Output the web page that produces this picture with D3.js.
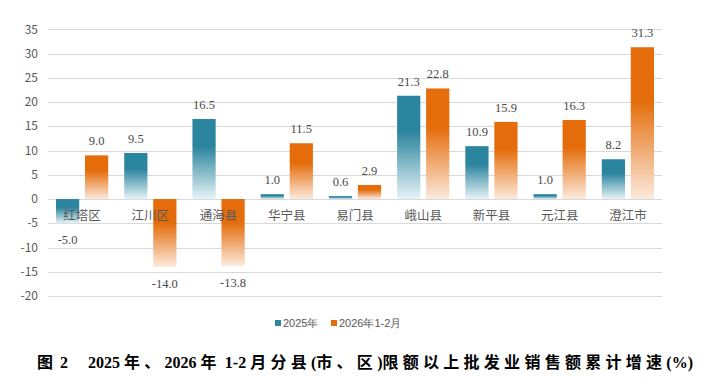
<!DOCTYPE html>
<html><head><meta charset="utf-8">
<script src="https://cdn.jsdelivr.net/npm/d3@7/dist/d3.min.js"></script>
<style>body{margin:0;background:#fff}svg{display:block}</style>
</head><body>
<svg id="c" width="703" height="383"></svg>
<script>
const categories = ["红塔区","江川区","通海县","华宁县","易门县","峨山县","新平县","元江县","澄江市"];
const series2025 = [-5.0, 9.5, 16.5, 1.0, 0.6, 21.3, 10.9, 1.0, 8.2];
const series2026 = [9.0, -14.0, -13.8, 11.5, 2.9, 22.8, 15.9, 16.3, 31.3];
const seriesNames = ["2025年", "2026年1-2月"];
const yTicks = [35,30,25,20,15,10,5,0,-5,-10,-15,-20];
const titleLead = "图 2";
const title = "2025 年、2026 年 1-2 月分县(市、区)限额以上批发业销售额累计增速(%)";

const svg = d3.select("#c");
const left = 48, right = 662;
const y = d3.scaleLinear().domain([-20, 35]).range([296, 29.3]);
const x0 = d3.scaleBand().domain(categories).range([left, right]).paddingInner(0).paddingOuter(0);
const x1 = d3.scaleBand().domain([0,1]).range([8, x0.bandwidth()-8]).paddingInner(0.2);

const defs = svg.append("defs");
const cols = [["#2C859E","#E6F3F7"],["#E46C0A","#FCEADC"]];
cols.forEach((c,i)=>{
  const g = defs.append("linearGradient").attr("id","g"+i).attr("x1",0).attr("y1",0).attr("x2",0).attr("y2",1);
  g.append("stop").attr("offset","0%").attr("stop-color",c[0]);
  g.append("stop").attr("offset","35%").attr("stop-color",c[0]);
  g.append("stop").attr("offset","100%").attr("stop-color",c[1]);
});

svg.append("g").selectAll("line").data(yTicks).join("line")
  .attr("x1",left).attr("x2",right).attr("y1",d=>Math.round(y(d))+0.5).attr("y2",d=>Math.round(y(d))+0.5)
  .attr("stroke","#d9d9d9").attr("stroke-width",1);
svg.append("g").selectAll("text").data(yTicks).join("text")
  .attr("x",38).attr("y",d=>y(d)).attr("dy","0.35em").attr("text-anchor","end")
  .attr("font-family","'Noto Sans CJK SC','Noto Sans',sans-serif").attr("font-size",12).attr("fill","#595959")
  .text(d=>d);

const data = [series2025, series2026];
data.forEach((s,si)=>{
  svg.append("g").selectAll("rect").data(s).join("rect")
    .attr("x",(d,i)=>x0(categories[i])+x1(si))
    .attr("width",x1.bandwidth())
    .attr("y",d=>d>=0?y(d):y(0))
    .attr("height",d=>Math.abs(y(d)-y(0)))
    .attr("fill","url(#g"+si+")");
});
svg.append("g").selectAll("text").data(categories).join("text")
  .attr("x",d=>x0(d)+x0.bandwidth()/2).attr("y",216).attr("dy","0.35em").attr("text-anchor","middle")
  .attr("font-family","'Noto Sans CJK SC',sans-serif").attr("font-size",12.5).attr("fill","#595959")
  .text(d=>d);
data.forEach((s,si)=>{
  svg.append("g").selectAll("text").data(s).join("text")
    .attr("x",(d,i)=>x0(categories[i])+x1(si)+x1.bandwidth()/2)
    .attr("y",d=>d>=0?y(d)-10:y(d)+21)
    .attr("text-anchor","middle")
    .attr("font-family","'Liberation Serif','Times New Roman',serif").attr("font-size",12.5).attr("fill","#4a4a4a")
    .text(d=>d.toFixed(1));
});
const leg = svg.append("g");
const legX = [275, 331];
seriesNames.forEach((n,i)=>{
  leg.append("rect").attr("x",legX[i]).attr("y",320).attr("width",6).attr("height",6).attr("fill",cols[i][0]);
  leg.append("text").attr("x",legX[i]+8).attr("y",323).attr("dy","0.35em")
    .attr("font-family","'Liberation Sans Narrow','Liberation Sans',sans-serif").attr("font-size",11).attr("fill","#595959")
    .text(n);
});
// title
const tf = "'Liberation Serif','Noto Sans CJK SC',serif";
svg.append("text").attr("x",37).attr("y",368).attr("font-family",tf).attr("font-weight","bold")
  .attr("font-size",16).attr("fill","#000").attr("word-spacing",3).text(titleLead);
const isCJK = s => /[\u3000-\u9fff\uff00-\uffef]/.test(s);
const segs = title.match(/[\u3000-\u9fff\uff00-\uffef]+|[^\u3000-\u9fff\uff00-\uffef]+/g);
const tt = svg.append("text").attr("x",88).attr("y",368).attr("font-family",tf).attr("font-weight","bold")
  .attr("font-size",16).attr("fill","#000");
const spans = tt.selectAll("tspan").data(segs).join("tspan").text(d=>d);
const w0 = tt.node().getComputedTextLength();
const nC = segs.filter(isCJK).reduce((a,s)=>a+s.length,0);
const ls = Math.max(0,(605 - w0)/nC);
spans.attr("letter-spacing",d=>isCJK(d)?ls:0);
</script>
</body></html>
